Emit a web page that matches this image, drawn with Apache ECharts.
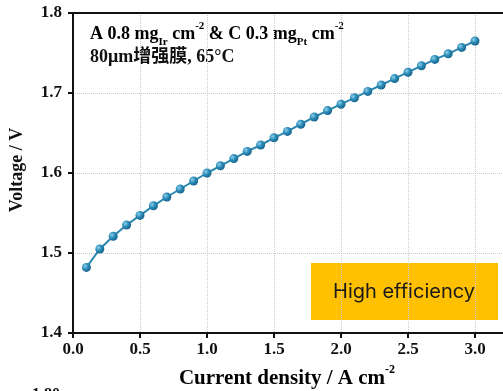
<!DOCTYPE html>
<html>
<head>
<meta charset="utf-8">
<script src="https://cdn.jsdelivr.net/npm/echarts@6/dist/echarts.min.js"></script>
<style>html,body{margin:0;padding:0;background:#fff;}#c{width:503px;height:391px;}</style>
</head>
<body>
<div id="c"></div>
<script>
const currentDensity = [0.1,0.2,0.3,0.4,0.5,0.6,0.7,0.8,0.9,1.0,1.1,1.2,1.3,1.4,1.5,1.6,1.7,1.8,1.9,2.0,2.1,2.2,2.3,2.4,2.5,2.6,2.7,2.8,2.9,3.0];
const voltage = [1.482,1.505,1.521,1.535,1.547,1.559,1.570,1.580,1.590,1.600,1.609,1.618,1.627,1.635,1.644,1.652,1.661,1.670,1.678,1.686,1.694,1.702,1.710,1.718,1.726,1.734,1.742,1.749,1.757,1.765];
const xTicks = ['0.0','0.5','1.0','1.5','2.0','2.5','3.0'];
const yTicks = ['1.4','1.5','1.6','1.7','1.8'];

const serif = '"Liberation Serif", "Noto Sans CJK SC", serif';
const chart = echarts.init(document.getElementById('c'));
const axisLabelStyle = {color:'#111', fontFamily:serif, fontWeight:'bold', fontSize:17};
chart.setOption({
  animation:false,
  backgroundColor:'#fff',
  grid:{left:73, top:13, right:-39, height:320, containLabel:false, outerBoundsMode:'none'},
  xAxis:[{
    type:'value', min:0, max:3.5, interval:0.5,
    axisLine:{show:true, onZero:false, lineStyle:{color:'#111', width:2}},
    axisTick:{show:true, length:5, lineStyle:{color:'#111', width:2}},
    axisLabel:{...axisLabelStyle, margin:8, formatter:v=>xTicks[Math.round(v/0.5)]||''},
    splitLine:{show:true, lineStyle:{color:'#c8c8c8', type:'dotted', width:1}}
  },{
    type:'value', min:0, max:3.5, position:'top',
    axisLine:{show:true, onZero:false, lineStyle:{color:'#111', width:2}},
    axisTick:{show:false}, axisLabel:{show:false}, splitLine:{show:false}
  }],
  yAxis:{
    type:'value', min:1.4, max:1.8, interval:0.1,
    axisLine:{show:true, onZero:false, lineStyle:{color:'#111', width:2}},
    axisTick:{show:true, length:5, lineStyle:{color:'#111', width:2}},
    axisLabel:{...axisLabelStyle, margin:11, formatter:v=>yTicks[Math.round((v-1.4)/0.1)]||''},
    splitLine:{show:true, lineStyle:{color:'#c8c8c8', type:'dotted', width:1}}
  },
  series:[{
    type:'line',
    data:currentDensity.map((x,i)=>[x,voltage[i]]),
    symbol:'circle', symbolSize:9,
    lineStyle:{color:'#2a86ad', width:2},
    itemStyle:{color:new echarts.graphic.RadialGradient(0.35,0.35,0.7,[
      {offset:0,color:'#8fd0ea'},{offset:0.5,color:'#2a8bb8'},{offset:1,color:'#16618a'}]),
      borderWidth:0}
  }],
  graphic:[
    {type:'text', left:90, top:21, style:{
      text:'{a|A 0.8 mg}{sub|Ir}{a| cm}{sup|-2}{a| & C 0.3 mg}{sub|Pt}{a| cm}{sup|-2}',
      rich:{
        a:{fontFamily:serif, fontWeight:'bold', fontSize:18, color:'#111', lineHeight:22, verticalAlign:'middle'},
        sub:{fontFamily:serif, fontWeight:'bold', fontSize:11, color:'#111', lineHeight:22, verticalAlign:'bottom', padding:[0,0,-3,0]},
        sup:{fontFamily:serif, fontWeight:'bold', fontSize:11, color:'#111', lineHeight:22, verticalAlign:'top', padding:[-2,0,0,0]}
      }}},
    {type:'text', left:90, top:48, style:{text:'80μm增强膜, 65°C', fontFamily:serif, fontWeight:'bold', fontSize:18, fill:'#111'}},
    {type:'rect', shape:{x:311, y:263, width:187, height:57}, style:{fill:'#FFC000'}},
    {type:'text', x:404, y:292, style:{text:'High efficiency', fontFamily:'Inter, Roboto, sans-serif', fontSize:20, fill:'#1a1a1a', align:'center', verticalAlign:'middle'}},
    {type:'text', x:17, y:170, rotation:Math.PI/2, style:{text:'Voltage / V', fontFamily:serif, fontWeight:'bold', fontSize:18, fill:'#111', align:'center', verticalAlign:'middle'}},
    {type:'text', x:287, y:366, style:{
      text:'{a|Current density / A cm}{sup|-2}', align:'center',
      rich:{
        a:{fontFamily:serif, fontWeight:'bold', fontSize:21, color:'#111', lineHeight:25, verticalAlign:'middle'},
        sup:{fontFamily:serif, fontWeight:'bold', fontSize:12, color:'#111', lineHeight:25, verticalAlign:'top', padding:[-2,0,0,0]}
      }}},
    {type:'text', left:32, top:387, style:{text:'1.80', fontFamily:serif, fontWeight:'bold', fontSize:16, fill:'#111'}}
  ]
});
</script>
</body>
</html>
